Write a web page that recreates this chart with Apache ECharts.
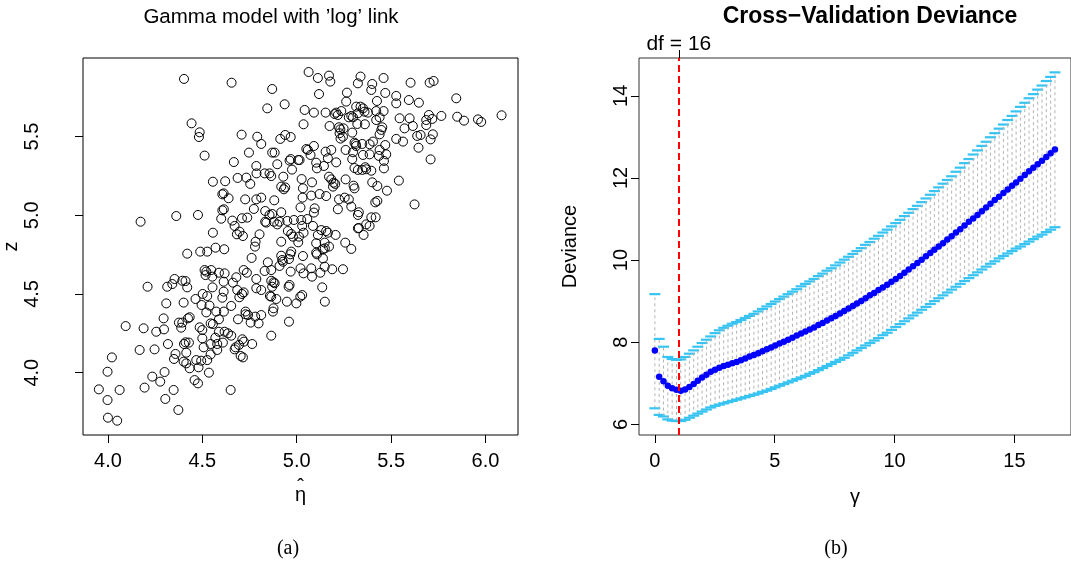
<!DOCTYPE html>
<html>
<head>
<meta charset="utf-8">
<script src="https://cdn.jsdelivr.net/npm/echarts@6/dist/echarts.min.js"></script>
<style>
html,body{margin:0;padding:0;background:#fff;}
#chart{width:1071px;height:574px;}
</style>
</head>
<body>
<div id="chart"></div>
<script>
// ---------- Panel (a): Gamma model with 'log' link ----------
const etaHat = [
5.063,4.403,5.112,5.171,5.178,5.338,5.460,4.655,5.324,5.400,5.603,5.704,5.725,4.870,5.395,5.118,5.266,5.469,5.527,5.262,5.425,5.594,5.647,5.845,4.936,4.844,5.527,
5.042,5.091,5.153,5.201,5.218,5.209,5.236,5.276,5.289,5.298,5.315,5.338,5.351,5.359,5.377,5.324,5.421,5.460,5.421,5.439,5.545,5.598,5.700,5.686,5.718,5.766,5.850,5.886,5.960,5.977,6.085,5.036,5.174,4.443,5.321,5.361,5.615,5.686,
5.224,5.231,5.248,5.227,5.294,5.453,5.448,5.571,5.439,4.486,4.482,4.708,4.791,4.913,4.939,4.968,5.245,5.638,5.656,5.721,5.527,5.563,5.709,4.812,5.232,5.306,5.315,5.312,5.347,5.386,5.404,5.469,5.091,
4.512,4.747,4.870,4.883,5.051,5.059,5.073,5.153,5.183,5.259,5.298,5.351,5.386,5.439,5.435,5.474,5.645,5.709,4.667,4.897,4.968,4.962,5.015,5.008,5.103,5.107,5.144,5.209,5.165,5.294,5.306,5.324,5.347,5.363,5.368,5.395,5.462,5.462,4.786,4.830,4.856,4.865,4.975,4.929,4.787,
4.556,4.621,4.687,4.733,4.754,4.918,4.932,4.939,5.026,5.033,5.081,5.171,5.183,5.195,5.192,5.204,5.259,5.301,5.306,5.400,5.427,5.478,5.541,4.613,4.606,4.639,4.727,4.786,4.812,4.881,5.031,5.077,5.121,5.156,5.224,5.254,5.276,5.427,5.416,5.624,
4.362,4.477,4.614,4.606,4.600,4.773,4.833,4.856,4.870,4.918,5.020,5.095,5.091,5.218,5.289,5.329,5.324,5.395,5.418,4.173,4.659,4.671,4.710,4.738,4.833,4.839,4.879,4.909,4.950,4.985,5.024,5.029,5.056,5.086,4.897,5.329,5.368,5.386,
4.556,4.683,4.697,4.715,4.803,4.953,4.971,4.980,5.012,5.036,5.112,5.130,5.156,5.165,5.206,5.324,5.354,4.570,4.616,4.489,4.526,4.782,4.779,4.918,5.008,5.103,5.148,5.171,5.257,5.289,4.420,4.971,4.966,5.033,5.103,5.107,5.139,5.149,
4.761,4.918,4.923,4.847,4.959,5.139,4.512,4.521,4.547,4.517,4.553,4.588,4.618,4.613,4.680,4.719,4.736,4.786,4.830,4.865,4.909,4.927,4.968,5.020,5.036,5.077,5.081,5.125,5.148,5.188,5.245,4.353,4.394,4.411,4.341,4.314,4.420,4.210,
4.662,4.685,4.719,4.710,4.786,4.812,4.865,4.870,4.877,4.883,4.957,4.962,5.135,4.464,4.502,4.526,4.613,4.606,4.554,4.309,4.401,4.496,4.538,4.653,4.696,4.858,4.865,4.892,4.948,4.998,5.019,5.029,5.149,
4.433,4.424,4.376,4.394,4.521,4.574,4.588,4.614,4.877,4.874,4.729,4.729,4.742,4.756,4.780,4.812,4.798,4.689,4.544,4.556,4.388,4.486,4.500,4.959,4.295,4.297,4.256,4.189,4.094,4.588,4.618,4.636,4.653,4.865,
4.569,4.500,4.579,4.609,4.544,4.411,4.403,4.429,4.318,4.712,4.720,4.694,4.676,4.671,4.764,4.507,4.579,4.544,4.415,4.358,4.350,4.247,4.168,4.021,4.703,4.715,4.468,4.494,4.526,
4.401,4.415,4.433,4.480,4.535,4.235,4.277,4.300,3.998,4.459,4.477,4.650,4.348,4.194,4.062,3.952,3.998,4.304,4.373,4.000,4.049
];
const zObs = [
5.910,5.866,5.872,5.887,5.849,5.881,5.872,5.842,5.838,5.834,5.842,5.842,5.853,5.802,5.796,5.770,5.779,5.777,5.758,5.722,5.726,5.732,5.715,5.743,5.705,5.679,5.711,
5.669,5.652,5.652,5.643,5.637,5.652,5.662,5.622,5.631,5.622,5.690,5.690,5.679,5.658,5.652,5.648,5.662,5.662,5.605,5.622,5.616,5.616,5.637,5.605,5.612,5.631,5.626,5.601,5.609,5.593,5.635,5.578,5.567,5.584,5.580,5.578,5.567,5.573,
5.559,5.546,5.552,5.521,5.525,5.559,5.542,5.552,5.514,5.527,5.497,5.512,5.499,5.485,5.510,5.497,5.499,5.504,5.510,5.514,5.485,5.468,5.482,5.453,5.487,5.461,5.440,5.453,5.453,5.451,5.468,5.446,5.440,
5.379,5.398,5.398,5.398,5.421,5.415,5.383,5.404,5.415,5.415,5.400,5.383,5.387,5.415,5.377,5.387,5.429,5.355,5.338,5.324,5.357,5.347,5.351,5.351,5.334,5.298,5.313,5.336,5.362,5.357,5.300,5.288,5.288,5.305,5.292,5.283,5.345,5.298,5.313,5.266,5.266,5.249,5.290,5.245,5.266,
5.213,5.216,5.237,5.239,5.199,5.182,5.165,5.177,5.230,5.171,5.209,5.245,5.228,5.207,5.182,5.199,5.228,5.188,5.171,5.209,5.186,5.156,5.220,5.139,5.133,5.108,5.101,5.101,5.112,5.095,5.112,5.125,5.135,5.122,5.101,5.112,5.101,5.091,5.082,5.069,
4.995,5.002,5.038,5.031,4.978,5.040,5.027,5.002,5.008,5.019,5.050,5.044,5.017,5.038,5.055,5.019,5.002,4.987,4.987,4.959,4.966,4.932,4.981,4.985,4.959,4.953,4.959,4.959,4.964,4.970,4.970,4.932,4.976,4.932,4.942,4.919,4.942,4.932,
4.889,4.879,4.896,4.868,4.879,4.900,4.881,4.864,4.864,4.889,4.875,4.906,4.900,4.889,4.875,4.917,4.875,4.794,4.784,4.769,4.769,4.832,4.801,4.832,4.828,4.822,4.826,4.801,4.826,4.786,4.756,4.769,4.752,4.741,4.762,4.752,4.784,4.790,
4.729,4.743,4.716,4.701,4.722,4.726,4.652,4.642,4.652,4.620,4.610,4.635,4.631,4.578,4.606,4.652,4.635,4.595,4.646,4.652,4.678,4.705,4.642,4.663,4.631,4.663,4.610,4.635,4.673,4.657,4.657,4.595,4.584,4.582,4.563,4.546,4.542,4.546,
4.572,4.525,4.510,4.500,4.536,4.525,4.584,4.546,4.574,4.568,4.546,4.557,4.542,4.468,4.500,4.487,4.515,4.476,4.542,4.440,4.445,4.430,4.426,4.424,4.479,4.487,4.483,4.468,4.451,4.440,4.483,4.493,4.451,
4.352,4.345,4.318,4.318,4.383,4.388,4.339,4.388,4.409,4.388,4.388,4.371,4.366,4.318,4.356,4.366,4.313,4.339,4.313,4.309,4.286,4.288,4.271,4.324,4.345,4.275,4.260,4.282,4.296,4.260,4.260,4.250,4.235,4.235,
4.222,4.218,4.182,4.191,4.182,4.193,4.182,4.191,4.182,4.212,4.197,4.176,4.161,4.148,4.182,4.161,4.144,4.116,4.127,4.119,4.087,4.148,4.144,4.097,4.106,4.097,4.080,4.076,4.080,
4.070,4.059,4.028,4.034,4.000,3.975,3.943,4.004,4.006,3.953,3.932,3.890,3.890,3.905,3.890,3.894,3.826,3.833,3.763,3.714,3.695
];
const etaTicks = [4.0, 4.5, 5.0, 5.5, 6.0];
const zTicks = [4.0, 4.5, 5.0, 5.5];

// ---------- Panel (b): Cross-Validation Deviance ----------
const gammaVals = [
0,0.18,0.36,0.54,0.72,0.90,1.08,1.26,1.44,1.62,
1.79,1.97,2.15,2.33,2.51,2.69,2.87,3.05,3.23,3.41,
3.59,3.77,3.95,4.13,4.31,4.49,4.67,4.85,5.02,5.20,
5.38,5.56,5.74,5.92,6.10,6.28,6.46,6.64,6.82,7.00,
7.18,7.36,7.54,7.72,7.90,8.08,8.26,8.43,8.61,8.79,
8.97,9.15,9.33,9.51,9.69,9.87,10.05,10.23,10.41,10.59,
10.77,10.95,11.13,11.31,11.49,11.66,11.84,12.02,12.20,12.38,
12.56,12.74,12.92,13.10,13.28,13.46,13.64,13.82,14.00,14.18,
14.36,14.54,14.72,14.90,15.07,15.25,15.43,15.61,15.79,15.97,
16.15,16.33,16.51,16.69
];
const cvMean = [
7.80,7.16,7.05,6.94,6.88,6.84,6.82,6.85,6.91,6.98,
7.06,7.14,7.21,7.28,7.33,7.38,7.42,7.45,7.49,7.52,
7.56,7.60,7.65,7.69,7.73,7.78,7.83,7.87,7.92,7.97,
8.01,8.06,8.11,8.16,8.21,8.26,8.31,8.36,8.42,8.47,
8.53,8.58,8.64,8.70,8.76,8.82,8.88,8.94,9.00,9.07,
9.14,9.20,9.27,9.33,9.40,9.47,9.54,9.61,9.69,9.77,
9.85,9.93,10.01,10.09,10.17,10.25,10.33,10.41,10.50,10.58,
10.67,10.75,10.84,10.93,11.01,11.10,11.19,11.28,11.37,11.46,
11.54,11.63,11.72,11.81,11.89,11.98,12.07,12.16,12.25,12.33,
12.42,12.51,12.60,12.69
];
const cvUpper = [
9.17,8.08,7.89,7.64,7.59,7.57,7.58,7.64,7.72,7.80,
7.89,7.98,8.06,8.14,8.22,8.29,8.35,8.40,8.45,8.49,
8.54,8.59,8.64,8.69,8.75,8.81,8.87,8.93,8.99,9.05,
9.11,9.17,9.23,9.29,9.36,9.42,9.48,9.54,9.61,9.67,
9.74,9.80,9.87,9.94,10.01,10.08,10.15,10.22,10.29,10.37,
10.44,10.52,10.59,10.67,10.74,10.82,10.90,10.98,11.07,11.15,
11.24,11.32,11.41,11.50,11.59,11.68,11.77,11.86,11.95,12.04,
12.15,12.25,12.36,12.46,12.57,12.67,12.78,12.88,12.99,13.09,
13.20,13.30,13.41,13.51,13.62,13.73,13.83,13.94,14.04,14.15,
14.25,14.36,14.46,14.57
];
const cvLower = [
6.39,6.23,6.19,6.12,6.09,6.08,6.08,6.11,6.16,6.21,
6.26,6.31,6.36,6.41,6.45,6.48,6.51,6.54,6.57,6.60,
6.63,6.66,6.69,6.72,6.75,6.79,6.82,6.86,6.90,6.94,
6.98,7.02,7.06,7.10,7.14,7.18,7.23,7.27,7.32,7.37,
7.42,7.47,7.52,7.57,7.62,7.68,7.74,7.80,7.86,7.92,
7.98,8.04,8.10,8.17,8.23,8.30,8.37,8.44,8.51,8.58,
8.65,8.72,8.79,8.86,8.93,9.00,9.07,9.14,9.21,9.28,
9.35,9.42,9.49,9.56,9.63,9.70,9.77,9.84,9.91,9.97,
10.04,10.10,10.16,10.22,10.28,10.33,10.39,10.45,10.51,10.57,
10.62,10.68,10.74,10.80
];
const gammaTicks = [0, 5, 10, 15];
const devTicks = [6, 8, 10, 12, 14];
const dfGamma = 1.0;
const dfLabel = 'df = 16';

// ---------- chart ----------
const chart = echarts.init(document.getElementById('chart'), null, {renderer: 'canvas'});
const FONT = '"Liberation Sans", Arial, Helvetica, sans-serif';
const scatterData = etaHat.map((x, i) => [x, zObs[i]]);
const barData = gammaVals.map((g, i) => [g, cvLower[i], cvUpper[i]]);
const meanData = gammaVals.map((g, i) => [g, cvMean[i]]);

function renderBar(params, api) {
  const g = api.value(0);
  const pLo = api.coord([g, api.value(1)]);
  const pHi = api.coord([g, api.value(2)]);
  const hw = 5.5;
  return {
    type: 'group',
    children: [
      {type: 'line', shape: {x1: pLo[0], y1: pLo[1], x2: pHi[0], y2: pHi[1]},
       style: {stroke: '#b4b4b4', lineWidth: 1, lineDash: [3, 3]}},
      {type: 'line', shape: {x1: pHi[0] - hw, y1: pHi[1], x2: pHi[0] + hw, y2: pHi[1]},
       style: {stroke: '#38c4f2', lineWidth: 2.2}},
      {type: 'line', shape: {x1: pLo[0] - hw, y1: pLo[1], x2: pLo[0] + hw, y2: pLo[1]},
       style: {stroke: '#38c4f2', lineWidth: 2.2}}
    ]
  };
}

const labelStyle = {fontSize: 20, color: '#000', fontFamily: FONT};
const option = {
  animation: false,
  backgroundColor: '#ffffff',
  textStyle: {fontFamily: FONT},
  grid: [
    {left: 83, top: 58, width: 435, height: 377, show: true, borderColor: '#000', borderWidth: 1, backgroundColor: 'transparent'},
    {left: 639, top: 58, width: 435, height: 377, show: true, borderColor: '#333', borderWidth: 1, backgroundColor: 'transparent'}
  ],
  xAxis: [
    {gridIndex: 0, type: 'value', min: 3.868, max: 6.172,
     axisLine: {show: false, onZero: false}, splitLine: {show: false},
     axisTick: {show: true, length: 8, customValues: etaTicks, lineStyle: {color: '#000'}},
     axisLabel: Object.assign({customValues: etaTicks, margin: 16, formatter: v => Number(v).toFixed(1)}, labelStyle),
     name: 'η', nameLocation: 'middle', nameGap: 50,
     nameTextStyle: {fontSize: 20, color: '#000', fontFamily: FONT}},
    {gridIndex: 1, type: 'value', min: -0.662, max: 17.36,
     axisLine: {show: false, onZero: false}, splitLine: {show: false},
     axisTick: {show: true, length: 8, customValues: gammaTicks, lineStyle: {color: '#000'}},
     axisLabel: Object.assign({customValues: gammaTicks, margin: 16, formatter: v => String(Math.round(v))}, labelStyle),
     name: 'γ', nameLocation: 'middle', nameGap: 52,
     nameTextStyle: {fontSize: 20, color: '#000', fontFamily: FONT}},
    {gridIndex: 1, type: 'value', position: 'top', min: -0.662, max: 17.36,
     axisLine: {show: false, onZero: false}, splitLine: {show: false},
     axisTick: {show: true, length: 8, customValues: [dfGamma], lineStyle: {color: '#000'}},
     axisLabel: Object.assign({customValues: [dfGamma], margin: 3, formatter: () => dfLabel}, labelStyle, {fontSize: 21})}
  ],
  yAxis: [
    {gridIndex: 0, type: 'value', min: 3.604, max: 5.999,
     axisLine: {show: false, onZero: false}, splitLine: {show: false},
     axisTick: {show: true, length: 8, customValues: zTicks, lineStyle: {color: '#000'}},
     axisLabel: Object.assign({customValues: zTicks, rotate: 90, margin: 41, formatter: v => Number(v).toFixed(1)}, labelStyle),
     name: 'z', nameLocation: 'middle', nameRotate: 90, nameGap: 58,
     nameTextStyle: {fontSize: 20, color: '#000', fontFamily: FONT}},
    {gridIndex: 1, type: 'value', min: 5.74, max: 14.92,
     axisLine: {show: false, onZero: false}, splitLine: {show: false},
     axisTick: {show: true, length: 8, customValues: devTicks, lineStyle: {color: '#000'}},
     axisLabel: Object.assign({customValues: devTicks, rotate: 90, margin: 8, formatter: v => String(Math.round(v))}, labelStyle),
     name: 'Deviance', nameLocation: 'middle', nameRotate: 90, nameGap: 59,
     nameTextStyle: {fontSize: 20, color: '#000', fontFamily: FONT}}
  ],
  series: [
    {type: 'scatter', xAxisIndex: 0, yAxisIndex: 0, data: scatterData,
     symbol: 'circle', symbolSize: 9,
     itemStyle: {color: 'rgba(0,0,0,0)', borderColor: '#000', borderWidth: 1, opacity: 1},
     emphasis: {disabled: true}},
    {type: 'custom', xAxisIndex: 1, yAxisIndex: 1, data: barData,
     renderItem: renderBar, encode: {x: 0, y: [1, 2]}, z: 2},
    {type: 'scatter', xAxisIndex: 1, yAxisIndex: 1, data: meanData,
     symbol: 'circle', symbolSize: 6.5, z: 3,
     itemStyle: {color: '#0000ff', opacity: 1}, emphasis: {disabled: true},
     markLine: {silent: true, symbol: ['none', 'none'], animation: false,
       label: {show: false},
       lineStyle: {color: '#ff0000', type: [7, 4], width: 2, opacity: 1},
       data: [{xAxis: dfGamma}]}}
  ],
  graphic: [
    {type: 'text', x: 271, y: 17, style: {text: 'Gamma model with ’log’ link', font: '20.5px ' + FONT, fill: '#000', align: 'center', verticalAlign: 'middle'}},
    {type: 'text', x: 870, y: 17, style: {text: 'Cross\u2212Validation Deviance', font: 'bold 23px ' + FONT, fill: '#000', align: 'center', verticalAlign: 'middle'}},
    {type: 'text', x: 300.5, y: 477, style: {text: 'ˆ', font: '20px ' + FONT, fill: '#000', align: 'center', verticalAlign: 'top'}},
    {type: 'text', x: 288, y: 549, style: {text: '(a)', font: '20px "Liberation Serif", "DejaVu Serif", serif', fill: '#000', align: 'center', verticalAlign: 'middle'}},
    {type: 'text', x: 836, y: 549, style: {text: '(b)', font: '20px "Liberation Serif", "DejaVu Serif", serif', fill: '#000', align: 'center', verticalAlign: 'middle'}}
  ]
};
chart.setOption(option);
</script>
</body>
</html>
